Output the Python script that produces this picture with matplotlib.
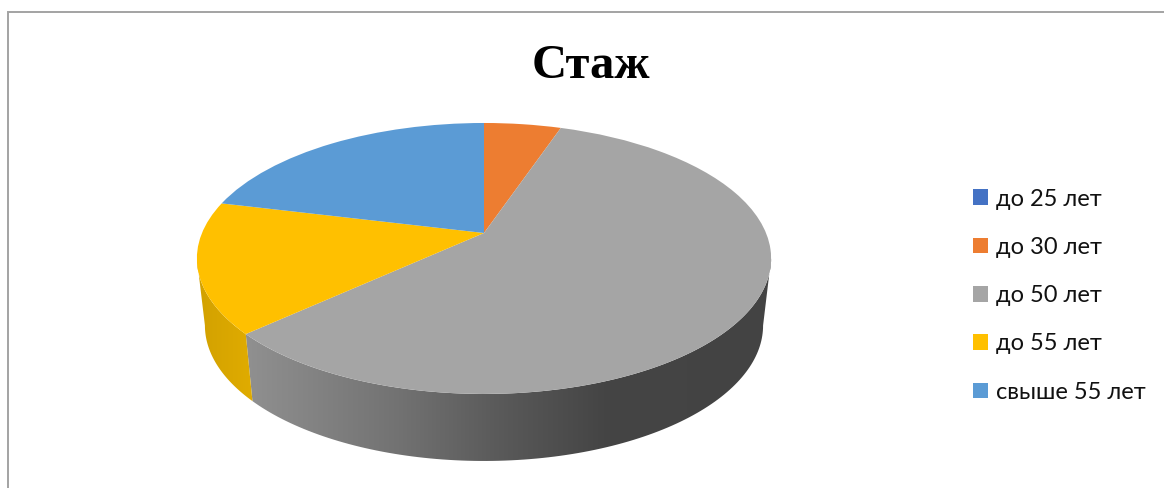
import matplotlib
matplotlib.use('Agg')
import matplotlib.pyplot as plt
import numpy as np
from matplotlib.colors import LinearSegmentedColormap
from matplotlib.patches import Polygon
from matplotlib.transforms import Transform

# values, in percent
categories = ['до 25 лет', 'до 30 лет', 'до 50 лет', 'до 55 лет', 'свыше 55 лет']
values = [0, 5.2, 58, 15.6, 21.2]
colors = ['#4472C4', '#ED7D31', '#A5A5A5', '#FFC000', '#5B9BD5']

W, H = 1164, 488
CX, CY = 484, 233      # pie vertex in pixels
RX, RY, K = 282, 130.7, 0.188  # perspective of the top disc
DEPTH, SHRINK = 67, 0.972      # bottom rim relative to the top rim


class Tilt(Transform):
    # unit circle -> tilted disc in pixel coordinates
    input_dims = 2
    output_dims = 2

    def transform_non_affine(self, values):
        values = np.asarray(values, dtype=float)
        d = 1 + K * values[:, 1]
        return np.column_stack([CX + RX * values[:, 0] / d, CY - RY * values[:, 1] / d])


tilt = Tilt()


def rim(theta, bottom=False):
    t = np.radians(theta)
    pts = tilt.transform_non_affine(np.column_stack([np.cos(t), np.sin(t)]))
    if bottom:
        pts[:, 0] = CX + (pts[:, 0] - CX) * SHRINK
        pts[:, 1] += DEPTH
    return pts


fig = plt.figure(figsize=(W / 100, H / 100), dpi=100)
ax = fig.add_axes([0, 0, 1, 1])

wedges, _ = ax.pie(values, colors=colors, startangle=90, counterclock=False,
                   wedgeprops={'linewidth': 0, 'zorder': 5})
for w in wedges:
    w.set_transform(tilt + ax.transData)

# the side wall is only visible between the two tangent points of the disc
edge = np.degrees(np.arcsin(K))
front = (-180 + edge, -edge)
shades = {
    2: [(0, '#909090'), (0.29, '#727272'), (0.48, '#5a5a5a'), (0.68, '#454545'), (1, '#434343')],
    3: [(0, '#d2a100'), (1, '#e0ac00')],
}
for i, w in enumerate(wedges):
    lo, hi = max(w.theta1, front[0]), min(w.theta2, front[1])
    if hi <= lo or i not in shades:
        continue
    t = np.linspace(lo, hi, 120)
    outline = np.vstack([rim(t), rim(t, bottom=True)[::-1]])
    x0, x1 = outline[:, 0].min(), outline[:, 0].max()
    y0, y1 = outline[:, 1].min(), outline[:, 1].max()
    cmap = LinearSegmentedColormap.from_list('wall%d' % i, shades[i])
    im = ax.imshow(np.linspace(0, 1, 256)[None, :], cmap=cmap, aspect='auto',
                   extent=[x0, x1, y1, y0], zorder=3, interpolation='bilinear')
    im.set_clip_path(Polygon(outline, closed=True, transform=ax.transData))

ax.set_aspect('auto')
ax.set_xlim(0, W)
ax.set_ylim(H, 0)
ax.axis('off')

# frame of the pasted chart, cut off at right and bottom
ax.plot([8, 8, W], [H, 12, 12], color='#a3a3a3', lw=1.4, solid_joinstyle='miter', zorder=1)

ax.text(591, 66, 'Стаж', family='Liberation Serif', weight='bold', fontsize=35,
        ha='center', va='center', color='black')

leg = ax.legend(wedges, categories, loc='upper left', bbox_to_anchor=(973 / W, 1 - 188.5 / H),
                frameon=False, handlelength=0.635, handleheight=0.635, handletextpad=0.34,
                labelspacing=1.155, borderpad=0, borderaxespad=0,
                prop={'family': ['Lato', 'Open Sans'], 'size': 17})
for t in leg.get_texts():
    t.set_color('#111111')

fig.savefig('out.png', dpi=100)
